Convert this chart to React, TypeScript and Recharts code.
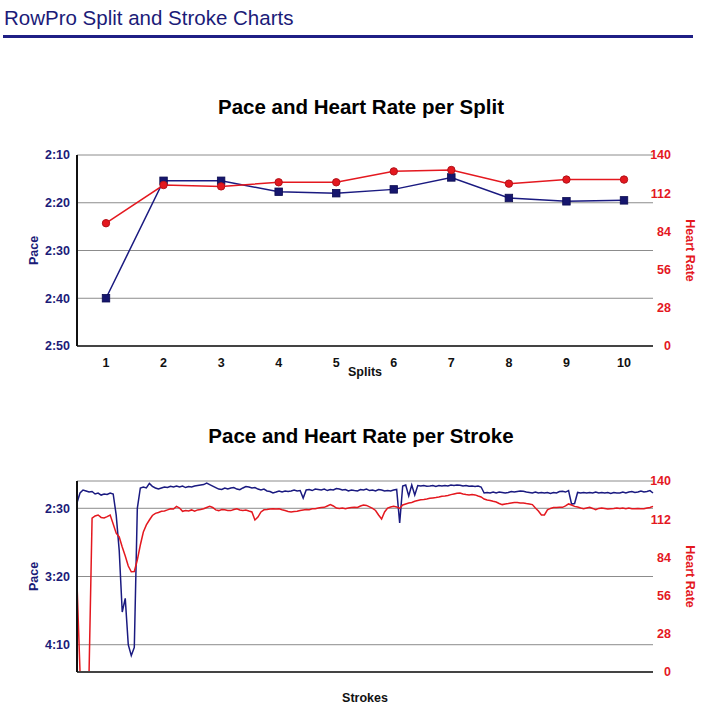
import React from "react"
import { LineChart, Line, XAxis, YAxis, CartesianGrid } from "recharts"

const NAVY = "#1b1b78"
const RED = "#e4181f"
const FONT = "Arial, 'Liberation Sans', Helvetica, sans-serif"

// per split (pace in seconds per 500m)
const splits = ["1", "2", "3", "4", "5", "6", "7", "8", "9", "10"]
const splitPace = [160, 135.4, 135.4, 137.7, 138.0, 137.2, 134.7, 139.0, 139.7, 139.5]
const splitHeartRate = [90, 118, 117, 120, 120, 128, 129, 119, 122, 122]

// per stroke
const strokePace = [
  146, 138.8, 136.6, 137.3, 138.1, 137.7, 139.5, 138.8, 140.3, 139.5, 139.9, 138.8, 139.5, 155, 181, 226,
  216, 250, 258, 252, 150, 135.1, 134.4, 135.1, 131.8, 133.9, 135.1, 135.9, 135.1, 134.4, 134.8, 133.9,
  134.4, 133.7, 134.4, 133.7, 134.8, 134.0, 134.4, 133.7, 133.3, 132.9, 132.6, 131.5, 132.6, 133.7, 134.8, 135.9,
  136.2, 135.1, 135.9, 135.1, 134.8, 135.9, 136.4, 135.1, 134.0, 134.4, 135.1, 134.8, 135.9, 136.6, 135.9, 137.3,
  137.7, 138.8, 138.1, 137.3, 138.1, 137.3, 137.7, 137.3, 136.6, 137.3, 137.0, 142.5, 136.6, 136.2, 137.0, 135.9,
  136.2, 136.6, 135.9, 137.0, 136.2, 136.6, 135.5, 135.9, 136.6, 136.2, 137.3, 136.6, 137.0, 137.3, 136.2, 136.6,
  135.9, 137.0, 136.6, 137.3, 136.2, 136.6, 137.3, 137.0, 137.3, 136.6, 136.2, 160.8, 133.7, 132.9, 141.0, 132.9,
  140.3, 133.3, 133.7, 133.3, 133.9, 133.7, 133.3, 134.0, 133.3, 133.7, 133.3, 133.7, 132.9, 133.3, 132.9, 133.1,
  133.7, 133.3, 133.9, 133.7, 134.0, 133.7, 134.4, 138.8, 138.4, 138.8, 138.1, 138.8, 138.1, 138.4, 138.8, 138.4,
  137.7, 138.1, 137.7, 137.3, 137.5, 138.1, 138.4, 138.8, 138.1, 138.8, 138.4, 138.8, 138.4, 139.2, 138.4, 138.8,
  137.7, 137.5, 138.1, 137.0, 146.9, 146.5, 138.4, 138.8, 138.4, 138.8, 138.4, 138.8, 138.1, 138.8, 138.4, 138.8,
  138.4, 139.2, 138.4, 138.8, 138.8, 138.1, 138.8, 138.1, 137.7, 138.4, 138.1, 137.3, 138.1, 137.7, 137.0, 138.8,
]
const strokeHeartRate = [
  65, 0, 0, 0, 0, 112.7, 114.4, 115.1, 113.3, 112.9, 113.9, 115.1, 108.5, 101.7, 99.0, 91.6,
  85.0, 77.7, 73.5, 73.7, 82.1, 93.1, 102.6, 107.8, 111.4, 114.7, 116.3, 116.9, 117.8, 118.0, 118.8, 119.7,
  119.5, 121.4, 120.2, 117.8, 118.4, 118.0, 118.8, 117.8, 118.8, 119.1, 119.7, 120.6, 121.4, 120.6, 118.8, 118.3,
  119.1, 118.9, 118.4, 118.3, 119.1, 119.7, 118.8, 118.4, 118.8, 118.0, 117.3, 111.4, 113.6, 117.3, 118.9, 119.1,
  119.5, 119.7, 119.5, 119.7, 118.9, 118.4, 117.7, 117.3, 117.7, 117.8, 118.4, 118.8, 119.1, 118.9, 119.7, 119.7,
  120.2, 120.6, 120.7, 121.7, 122.7, 121.7, 120.2, 119.9, 120.2, 119.7, 120.2, 120.6, 120.7, 120.6, 121.7, 122.4,
  122.1, 121.0, 119.9, 118.4, 115.1, 112.2, 117.3, 120.2, 121.0, 121.4, 121.0, 119.9, 122.4, 123.2, 123.9, 124.3,
  125.1, 125.7, 126.3, 126.5, 126.8, 127.3, 127.6, 127.9, 128.3, 128.8, 129.0, 129.4, 130.0, 130.5, 131.0, 131.2,
  130.5, 130.1, 129.8, 130.1, 129.8, 129.0, 128.3, 126.8, 126.1, 125.7, 125.1, 124.6, 123.5, 122.7, 123.2, 123.5,
  123.9, 124.3, 124.3, 123.9, 123.9, 123.5, 123.2, 122.7, 120.2, 118.0, 115.1, 115.1, 118.8, 119.9, 120.6, 120.6,
  120.7, 120.7, 121.7, 123.2, 122.4, 121.4, 121.0, 120.2, 119.7, 120.2, 120.7, 119.9, 118.9, 119.9, 120.2, 119.9,
  119.5, 119.7, 119.9, 120.2, 119.9, 120.2, 119.7, 120.2, 119.7, 119.7, 119.9, 119.7, 119.7, 120.2, 120.6, 121.4,
]

const paceTicksSplit = [130, 140, 150, 160, 170]
const paceTicksStroke = [150, 200, 250]
const hrTicks = [0, 28, 56, 84, 112, 140]

const splitData = splits.map((s, i) => ({ split: s, pace: splitPace[i], hr: splitHeartRate[i] }))
const strokeData = strokePace.map((p, i) => ({ stroke: i + 1, pace: p, hr: strokeHeartRate[i] }))

const fmtPace = (v: number) => `${Math.floor(v / 60)}:${String(Math.round(v % 60)).padStart(2, "0")}`

const labelFont = { fontSize: 12.5, fontWeight: "bold", fontFamily: FONT }

const HrTick = ({ x, y, payload }: any) => (
  <text x={x + 18} y={y} dy="0.35em" textAnchor="end" fill={RED} {...labelFont}>
    {payload.value}
  </text>
)

const squareDot = (p: any) => (
  <rect key={`sq-${p.index}`} x={p.cx - 3.75} y={p.cy - 3.75} width={7.5} height={7.5} fill="#16166e" stroke="#0c0c50" strokeWidth={0.8} />
)

export default function App() {
  return (
    <div style={{ position: "absolute", left: 0, top: 0, width: 706, height: 719, background: "#fff", fontFamily: FONT }}>
      <svg width={706} height={719} style={{ position: "absolute", left: 0, top: 0 }}>
        <text x={4} y={25} fontSize={20.5} fill={NAVY} fontFamily={FONT}>
          RowPro Split and Stroke Charts
        </text>
        <rect x={3} y={35} width={690} height={3} fill="#1f1f85" />
        <text x={361} y={114} fontSize={20.5} fontWeight="bold" textAnchor="middle" fill="#000" fontFamily={FONT}>
          Pace and Heart Rate per Split
        </text>
        <text x={361} y={443} fontSize={20.5} fontWeight="bold" textAnchor="middle" fill="#000" fontFamily={FONT}>
          Pace and Heart Rate per Stroke
        </text>
      </svg>

      <div style={{ position: "absolute", left: 0, top: 130 }}>
        <LineChart width={706} height={260} data={splitData} margin={{ top: 25, right: 0, bottom: 0, left: 0 }}>
          <CartesianGrid vertical={false} stroke="#8c8c8c" yAxisId="pace" />
          <XAxis
            dataKey="split"
            height={44}
            padding={{ left: 29, right: 29 }}
            tickLine={false}
            tickMargin={6}
            axisLine={{ stroke: "#444", strokeWidth: 2 }}
            tick={{ fill: "#111", ...labelFont }}
            label={{ value: "Splits", position: "insideBottom", offset: 14, fill: "#111", ...labelFont }}
          />
          <YAxis
            yAxisId="pace"
            orientation="left"
            width={77}
            domain={[130, 170]}
            reversed
            ticks={paceTicksSplit}
            tickFormatter={fmtPace}
            tickLine={false}
            tickSize={0}
            tickMargin={7}
            axisLine={{ stroke: "#111", strokeWidth: 2 }}
            tick={{ fill: NAVY, ...labelFont }}
            label={{ value: "Pace", angle: -90, position: "center", dx: -5, fill: NAVY, ...labelFont }}
          />
          <YAxis
            yAxisId="hr"
            orientation="right"
            width={53}
            domain={[0, 140]}
            ticks={hrTicks}
            tickLine={false}
            tickSize={0}
            tickMargin={0}
            axisLine={false}
            tick={<HrTick />}
            label={{ value: "Heart Rate", angle: 90, position: "center", dx: 11, fill: RED, ...labelFont }}
          />
          <Line yAxisId="pace" dataKey="pace" stroke="#1a1a80" strokeWidth={1.5} dot={squareDot} isAnimationActive={false} />
          <Line
            yAxisId="hr"
            dataKey="hr"
            stroke={RED}
            strokeWidth={1.5}
            dot={{ r: 3.7, fill: RED, stroke: "#b3121a", strokeWidth: 1 }}
            isAnimationActive={false}
          />
        </LineChart>
      </div>

      <div style={{ position: "absolute", left: 0, top: 460 }}>
        <LineChart width={706} height={259} data={strokeData} margin={{ top: 21, right: 0, bottom: 0, left: 0 }}>
          <CartesianGrid vertical={false} stroke="#8c8c8c" yAxisId="pace" />
          <XAxis
            dataKey="stroke"
            height={47}
            tick={false}
            tickLine={false}
            axisLine={{ stroke: "#444", strokeWidth: 2 }}
            label={{ value: "Strokes", position: "insideBottom", offset: 17, fill: "#111", ...labelFont }}
          />
          <YAxis
            yAxisId="pace"
            orientation="left"
            width={77}
            domain={[130, 270]}
            reversed
            ticks={paceTicksStroke}
            tickFormatter={fmtPace}
            tickLine={false}
            tickSize={0}
            tickMargin={7}
            axisLine={{ stroke: "#111", strokeWidth: 2 }}
            tick={{ fill: NAVY, ...labelFont }}
            label={{ value: "Pace", angle: -90, position: "center", dx: -5, fill: NAVY, ...labelFont }}
          />
          <YAxis
            yAxisId="hr"
            orientation="right"
            width={53}
            domain={[0, 140]}
            ticks={hrTicks}
            tickLine={false}
            tickSize={0}
            tickMargin={0}
            axisLine={false}
            tick={<HrTick />}
            label={{ value: "Heart Rate", angle: 90, position: "center", dx: 11, fill: RED, ...labelFont }}
          />
          <Line yAxisId="pace" dataKey="pace" stroke="#1a1a80" strokeWidth={1.5} dot={false} isAnimationActive={false} />
          <Line yAxisId="hr" dataKey="hr" stroke={RED} strokeWidth={1.5} dot={false} isAnimationActive={false} />
        </LineChart>
      </div>
    </div>
  )
}
